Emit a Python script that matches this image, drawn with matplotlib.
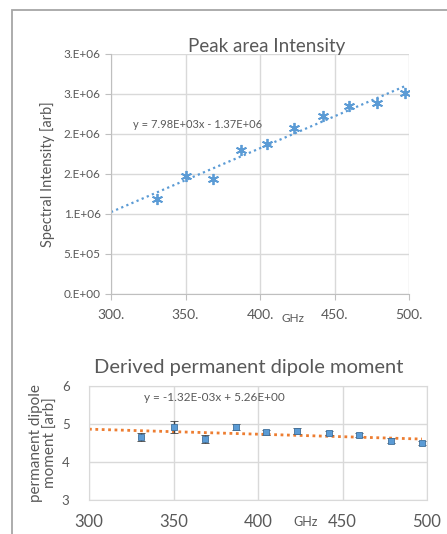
import matplotlib
matplotlib.use("Agg")
import matplotlib.pyplot as plt
from matplotlib.patches import Rectangle

plt.rcParams['font.family'] = ['Lato', 'DejaVu Sans']

# Peak area intensity vs frequency
freq_ghz = [331, 350, 368.5, 387, 405, 423, 442, 460, 478.5, 497]
intensity = [1.19e6, 1.475e6, 1.44e6, 1.80e6, 1.875e6, 2.075e6, 2.225e6,
             2.35e6, 2.39e6, 2.51e6]
int_slope, int_icept = 7.98e3, -1.37e6

# Derived permanent dipole moment
dipole = [4.66, 4.92, 4.60, 4.91, 4.78, 4.82, 4.76, 4.71, 4.56, 4.50]
dipole_err = [0.10, 0.16, 0.10, 0.08, 0.07, 0.07, 0.06, 0.06, 0.06, 0.06]
dip_slope, dip_icept = -1.32e-3, 5.26

top_yticks = [0, 5e5, 1e6, 1.5e6, 2e6, 2.5e6, 3e6]
top_ytick_labels = ['0.E+00', '5.E+05', '1.E+06', '2.E+06', '2.E+06', '3.E+06', '3.E+06']
top_xticks = [300, 350, 400, 450, 500]
top_xtick_labels = ['300.', '350.', '400.', '450.', '500.']
bot_yticks = [3, 4, 5, 6]
bot_xticks = [300, 350, 400, 450, 500]

blue = '#5B9BD5'
orange = '#ED7D31'
grid_c = '#D9D9D9'
text_c = '#595959'

W, H = 447, 534
fig = plt.figure(figsize=(W / 100, H / 100), dpi=100)

# outer frame
fig.add_artist(Rectangle((12 / W, -0.1), 1.2, 1.1 - 10 / H, transform=fig.transFigure,
                         fill=False, edgecolor='#A6A6A6', linewidth=1.3))

# ---- top chart ----
ax1 = fig.add_axes([111 / W, 1 - 294 / H, 298 / W, 240 / H])
ax1.plot(freq_ghz, intensity, linestyle='none', marker=(6, 2, 0), markersize=8,
         markeredgecolor=blue, markeredgewidth=1.3, zorder=3)
tx = [300, freq_ghz[-1]]
ax1.plot(tx, [int_slope * x + int_icept for x in tx], linestyle=(0, (1, 1.5)),
         color=blue, linewidth=1.6, zorder=2)
ax1.set_xlim(300, 500)
ax1.set_ylim(0, 3e6)
ax1.set_yticks(top_yticks)
ax1.set_yticklabels(top_ytick_labels)
ax1.set_xticks(top_xticks)
ax1.set_xticklabels(top_xtick_labels)
ax1.grid(True, color=grid_c, linewidth=1)
for s in ['top', 'right']:
    ax1.spines[s].set_visible(False)
for s in ['left', 'bottom']:
    ax1.spines[s].set_color('#BFBFBF')
ax1.tick_params(axis='y', colors='#BFBFBF', labelcolor=text_c, labelsize=8.5,
                length=4, direction='out')
ax1.tick_params(axis='x', colors='#BFBFBF', labelcolor=text_c, labelsize=10,
                length=4, direction='out', pad=7)
ax1.set_axisbelow(True)
ax1.text(0.523, 1.033, 'Peak area Intensity', transform=ax1.transAxes,
         ha='center', va='center', color=text_c, fontsize=13.5)
ax1.set_ylabel('Spectral Intensity [arb]', color=text_c, fontsize=10.5, labelpad=6)
ax1.text(0.609, -0.1, 'GHz', transform=ax1.transAxes, ha='center', va='center',
         color=text_c, fontsize=8.5)
ax1.text(0.075, 0.705, 'y = 7.98E+03x - 1.37E+06', transform=ax1.transAxes,
         color=text_c, fontsize=8, va='center')

# ---- bottom chart ----
ax2 = fig.add_axes([89 / W, 1 - 500 / H, 338 / W, 114 / H])
bx = [300, freq_ghz[-1]]
ax2.plot(bx, [dip_slope * x + dip_icept for x in bx], linestyle=(0, (1, 1.3)),
         color=orange, linewidth=2, zorder=2)
ax2.errorbar(freq_ghz, dipole, yerr=dipole_err, fmt='s', markersize=5,
             markerfacecolor=blue, markeredgecolor='#41719C', markeredgewidth=0.6,
             ecolor='#404040', elinewidth=1, capsize=3, capthick=1, zorder=3)
ax2.set_xlim(300, 500)
ax2.set_ylim(3, 6)
ax2.set_yticks(bot_yticks)
ax2.set_xticks(bot_xticks)
ax2.grid(True, color=grid_c, linewidth=1)
for s in ax2.spines.values():
    s.set_color(grid_c)
ax2.tick_params(length=0, labelcolor=text_c)
ax2.tick_params(axis='y', labelsize=9.5, pad=14)
ax2.tick_params(axis='x', labelsize=12, pad=10)
ax2.set_axisbelow(True)
ax2.text(0.473, 1.165, 'Derived permanent dipole moment', transform=ax2.transAxes,
         ha='center', va='center', color=text_c, fontsize=14.5)
ax2.set_ylabel('permanent dipole\nmoment [arb]', color=text_c, fontsize=11,
               labelpad=3, linespacing=1.05)
ax2.text(0.64, -0.195, 'GHz', transform=ax2.transAxes, ha='center', va='center',
         color=text_c, fontsize=9)
ax2.text(0.37, 0.897, 'y = -1.32E-03x + 5.26E+00', transform=ax2.transAxes,
         color=text_c, fontsize=8.5, va='center', ha='center')

fig.savefig('out.png', dpi=100)
